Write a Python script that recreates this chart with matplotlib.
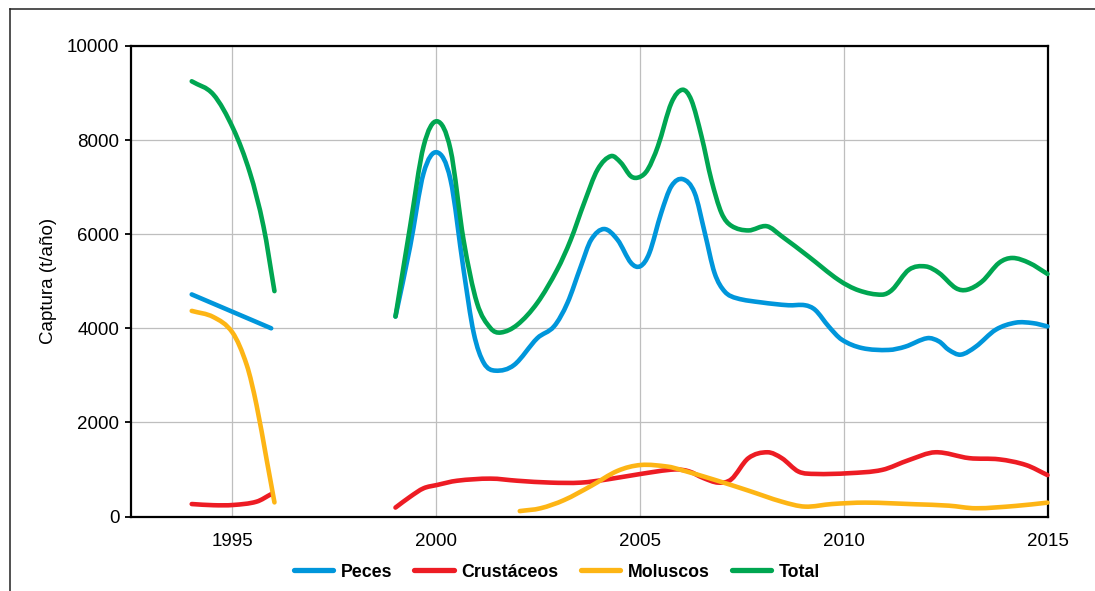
import numpy as np
import matplotlib
matplotlib.use("Agg")
import matplotlib.pyplot as plt
from matplotlib.path import Path
from matplotlib.patches import PathPatch
from matplotlib.lines import Line2D

plt.rcParams['font.family'] = ['Liberation Sans', 'DejaVu Sans']

nan = float('nan')

# ---- data ----
peces_x = [1994.0, 1995.95, nan,
           1999.0, 1999.36, 1999.69, 2000.02, 2000.35, 2000.67, 2000.92, 2001.17, 2001.45,
           2001.91, 2002.48, 2002.89, 2003.22, 2003.55, 2003.80, 2004.12, 2004.45, 2004.78,
           2005.01, 2005.23, 2005.52, 2005.77, 2006.05, 2006.34, 2006.59, 2006.83, 2007.08,
           2007.37, 2007.98, 2008.64, 2009.05, 2009.30, 2009.63, 2009.95, 2010.45, 2011.10,
           2011.51, 2012.05, 2012.34, 2012.58, 2012.87, 2013.24, 2013.73, 2014.22, 2014.64,
           2015.0]
peces_y = [4720, 4000, nan,
           4250, 5740, 7300, 7740, 7160, 5250, 3900, 3260, 3100,
           3220, 3790, 4040, 4540, 5320, 5880, 6110, 5880, 5390,
           5320, 5600, 6450, 7020, 7170, 6880, 6030, 5175, 4780,
           4640, 4550, 4490, 4490, 4390, 4040, 3760, 3580, 3540,
           3610, 3790, 3720, 3540, 3440, 3610, 3970, 4120, 4110,
           4040]

crust_x = [1994.0, 1994.53, 1995.02, 1995.59, 1995.96, nan,
           1999.0, 1999.36, 1999.69, 2000.02, 2000.51, 2001.33, 2001.99, 2002.81, 2003.55,
           2004.21, 2005.02, 2005.85, 2006.2, 2006.55, 2006.92, 2007.24, 2007.66, 2008.13,
           2008.48, 2008.89, 2009.30, 2010.12, 2010.94, 2011.60, 2012.25, 2013.08, 2013.81,
           2014.47, 2015.0]
crust_y = [265, 240, 245, 315, 480, nan,
           190, 420, 600, 670, 760, 805, 760, 720, 720,
           790, 905, 1000, 960, 820, 720, 790, 1240, 1365,
           1240, 955, 905, 920, 990, 1200, 1365, 1240, 1215,
           1095, 880]

molus_x = [1994.0, 1994.53, 1995.0, 1995.35, 1995.59, 1995.84, 1996.03, nan,
           2002.05, 2002.56, 2003.14, 2003.80, 2004.45, 2005.02, 2005.68, 2006.01, 2006.83,
           2007.66, 2008.48, 2009.05, 2009.71, 2010.53, 2011.76, 2012.58, 2013.24, 2014.22,
           2015.0]
molus_y = [4370, 4240, 3910, 3220, 2370, 1200, 300, nan,
           115, 175, 350, 650, 970, 1095, 1060, 990, 780,
           550, 315, 210, 265, 295, 260, 230, 175, 225,
           295]

total_x = [1994.0, 1994.53, 1995.02, 1995.43, 1995.76, 1996.03, nan,
           1999.0, 1999.36, 1999.69, 2000.02, 2000.35, 2000.67, 2001.0, 2001.33, 2001.58,
           2001.99, 2002.48, 2002.97, 2003.30, 2003.63, 2003.96, 2004.29, 2004.53, 2004.78,
           2004.99, 2005.19, 2005.44, 2005.77, 2006.04, 2006.26, 2006.51, 2006.75, 2007.0,
           2007.24, 2007.66, 2008.11, 2008.48, 2009.13, 2009.87, 2010.37, 2010.94, 2011.19,
           2011.60, 2012.01, 2012.34, 2012.75, 2013.03, 2013.40, 2013.81, 2014.14, 2014.55,
           2015.0]
total_y = [9250, 8970, 8240, 7300, 6170, 4790, nan,
           4250, 6170, 7870, 8400, 7800, 5880, 4540, 4005, 3910,
           4075, 4540, 5250, 5880, 6665, 7375, 7660, 7520, 7230,
           7215, 7375, 7870, 8790, 9070, 8850, 8080, 7160, 6450,
           6180, 6080, 6170, 5955, 5530, 5030, 4805, 4715, 4820,
           5245, 5315, 5175, 4855, 4820, 5000, 5390, 5495, 5390,
           5155]

series_names = ['Peces', 'Crustáceos', 'Moluscos', 'Total']
series_colors = ['#0096DB', '#ED1C24', '#FDB515', '#00A651']
series_data = [(peces_x, peces_y), (crust_x, crust_y), (molus_x, molus_y), (total_x, total_y)]

x_ticks = [1995, 2000, 2005, 2010, 2015]
y_ticks = [0, 2000, 4000, 6000, 8000, 10000]


def smooth_path(xs, ys):
    """Smooth curve (cubic Hermite in x, drawn as Bezier segments) through the points."""
    verts, codes = [], []
    seg = []
    for x, y in list(zip(xs, ys)) + [(nan, nan)]:
        if np.isnan(x) or np.isnan(y):
            if len(seg) >= 2:
                P = np.array(seg, dtype=float)
                X, Y = P[:, 0], P[:, 1]
                n = len(P)
                m = np.zeros(n)
                for i in range(n):
                    if i == 0:
                        m[i] = (Y[1] - Y[0]) / (X[1] - X[0])
                    elif i == n - 1:
                        m[i] = (Y[-1] - Y[-2]) / (X[-1] - X[-2])
                    else:
                        m[i] = (Y[i + 1] - Y[i - 1]) / (X[i + 1] - X[i - 1])
                verts.append(P[0]); codes.append(Path.MOVETO)
                for i in range(n - 1):
                    h = X[i + 1] - X[i]
                    c1 = (X[i] + h / 3, Y[i] + m[i] * h / 3)
                    c2 = (X[i + 1] - h / 3, Y[i + 1] - m[i + 1] * h / 3)
                    verts.extend([c1, c2, P[i + 1]])
                    codes.extend([Path.CURVE4] * 3)
            seg = []
        else:
            seg.append((x, y))
    return Path(verts, codes)


fig = plt.figure(figsize=(10.95, 5.91), dpi=100)
ax = fig.add_axes([130.6 / 1095, 74.5 / 591, (1047.5 - 130.6) / 1095, (516.5 - 46) / 591])

ax.set_xlim(1992.5, 2015.0)
ax.set_ylim(0, 10000)

for (xs, ys), c in zip(series_data, series_colors):
    patch = PathPatch(smooth_path(xs, ys), facecolor='none', edgecolor=c, lw=3.3,
                      capstyle='round', joinstyle='round', zorder=3, clip_on=False)
    ax.add_patch(patch)

ax.set_xticks(x_ticks)
ax.set_yticks(y_ticks)
ax.tick_params(axis='x', length=0, pad=12, labelsize=13.5)
ax.tick_params(axis='y', length=4.5, width=1.3, pad=3.5, labelsize=13.5, direction='out')
ax.grid(True, color='#BEBEBE', lw=0.9)
ax.set_axisbelow(True)
for s in ax.spines.values():
    s.set_linewidth(1.6)
    s.set_color('black')

ax.set_ylabel('Captura (t/año)', fontsize=13.5, labelpad=7)

handles = [Line2D([], [], color=c, lw=3.8, solid_capstyle='round') for c in series_colors]
fig.legend(handles, series_names, loc='center', bbox_to_anchor=(0.5087, 0.032), ncol=4,
           frameon=False, prop={'weight': 'bold', 'size': 12.8},
           handlelength=2.2, handletextpad=0.45, columnspacing=1.25)

# outer frame (top and left edges)
fig.add_artist(Line2D([9.5 / 1095, 1.0], [582 / 591, 582 / 591], transform=fig.transFigure,
                      color='#222222', lw=1.1))
fig.add_artist(Line2D([9.5 / 1095, 9.5 / 1095], [0, 582 / 591], transform=fig.transFigure,
                      color='#222222', lw=1.1))

fig.savefig('out.png', dpi=100)
